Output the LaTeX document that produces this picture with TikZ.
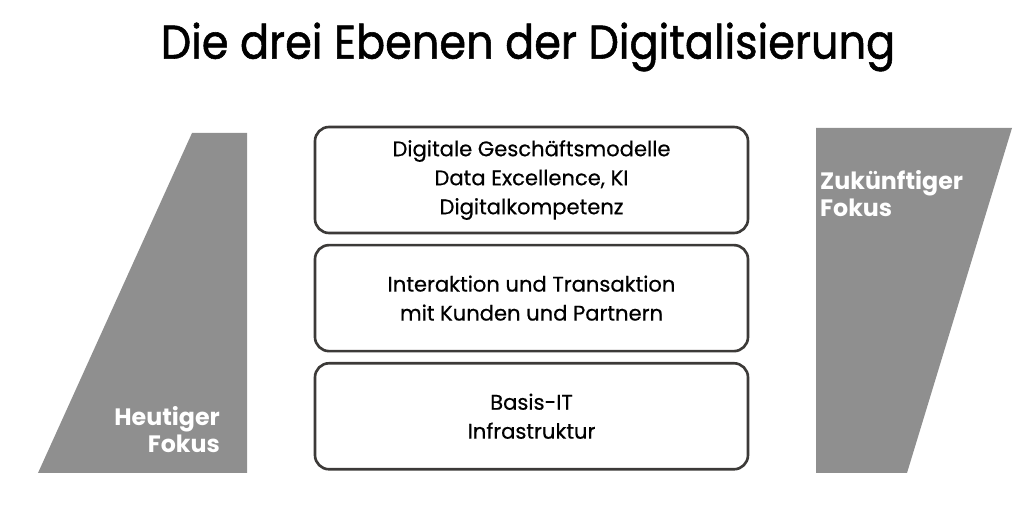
\documentclass[tikz,border=0pt]{standalone}
\usepackage{fontspec}
\setmainfont{Poppins}
\newfontfamily\titelfont[FakeBold=1.2]{Poppins}
\newfontfamily\ebenefont[FakeBold=0.5]{Poppins}
\usetikzlibrary{positioning}
\definecolor{fokusgray}{HTML}{8F8F8F}
\definecolor{rahmen}{HTML}{3C3A38}
\tikzset{
  ebene/.style={draw=rahmen, line width=1.5pt, rounded corners=8pt, minimum width=8.66cm,
    minimum height=2.12cm, align=center, font=\ebenefont\fontsize{12}{16.5}\selectfont},
  fokus/.style={text=white, font=\bfseries\fontsize{13.5}{15.5}\selectfont}
}
\begin{document}
\begin{tikzpicture}
\useasboundingbox (0,0) rectangle (20.48,10.36);
\node[yscale=1.1] (titel) at (10.56,9.42) {\titelfont\fontsize{24.5}{30}\selectfont Die drei Ebenen der Digitalisierung};
\draw[fill=fokusgray, draw=none] (3.84,7.70)--(4.94,7.70)--(4.94,0.90)--(0.76,0.90)--cycle;
\draw[fill=fokusgray, draw=none] (16.32,7.80)--(20.24,7.80)--(18.14,0.90)--(16.32,0.90)--cycle;
\node[ebene] (digital) at (10.63,6.76) {Digitale Geschäftsmodelle\\Data Excellence, KI\\Digitalkompetenz};
\node[ebene, below=0.19cm of digital] (interaktion) {Interaktion und Transaktion\\mit Kunden und Partnern};
\node[ebene, below=0.19cm of interaktion] (basis) {Basis-IT\\Infrastruktur};
\node[fokus, align=right, anchor=south east] (heute) at (4.52,1.18) {Heutiger\\Fokus};
\node[fokus, align=left, anchor=north west] (zukunft) at (16.28,7.07) {Zukünftiger\\Fokus};
\end{tikzpicture}
\end{document}
